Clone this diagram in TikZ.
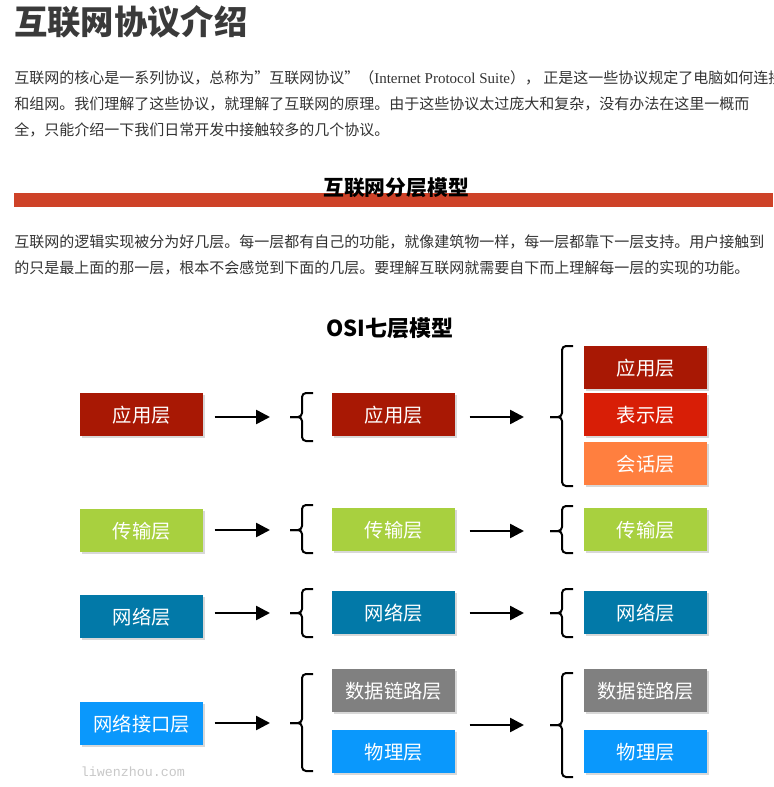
\documentclass[tikz,border=0pt]{standalone}
\usepackage{fontspec}
\setmainfont{Noto Sans CJK SC}
\newfontfamily\latinserif{Liberation Serif}
\newfontfamily\monowm{Liberation Mono}
\usetikzlibrary{arrows.meta,shadows}
\definecolor{txtgray}{RGB}{51,51,51}
\definecolor{ttlgray}{RGB}{58,58,58}
\definecolor{barred}{RGB}{206,66,40}
\definecolor{wmgray}{RGB}{200,200,200}
\definecolor{appC}{RGB}{168,24,4}
\definecolor{preC}{RGB}{216,30,6}
\definecolor{sesC}{RGB}{255,127,63}
\definecolor{traC}{RGB}{168,208,63}
\definecolor{netC}{RGB}{2,121,168}
\definecolor{phyC}{RGB}{10,152,252}
\definecolor{lnkC}{RGB}{128,128,128}

\begin{document}
\begin{tikzpicture}[x=0.75pt,y=-0.75pt,>={Triangle[length=10.5pt,width=10.5pt]},
    lyr/.style={anchor=north west,minimum width=92.25pt,minimum height=32.25pt,inner sep=0pt,
      text=white,font=\fontsize{14.5}{16}\selectfont,
      drop shadow={shadow xshift=1.5pt,shadow yshift=-1.5pt,opacity=0.3}},
    para/.style={anchor=west,inner sep=0pt,text=txtgray,font=\fontsize{11.25}{13}\selectfont},
    arr/.style={->,line width=1.9pt},
    brc/.style={line width=1.5pt,rounded corners=3pt}]
        \useasboundingbox (0,0) rectangle (773,787);
        \clip (0,0) rectangle (773,787);
        \fill[white] (0,0) rectangle (773,787);
        % page text
        \node[anchor=west,inner sep=0pt,text=ttlgray,font=\fontsize{25}{28}\selectfont\bfseries] (ttl) at (14,22) {互联网协议介绍};
        \node[para] (p1) at (14,78) {互联网的核心是一系列协议，总称为”互联网协议”（{\latinserif Internet Protocol Suite}）， 正是这一些协议规定了电脑如何连接};
        \node[para] (p2) at (14,104) {和组网。我们理解了这些协议，就理解了互联网的原理。由于这些协议太过庞大和复杂，没有办法在这里一概而};
        \node[para] (p3) at (14,130) {全，只能介绍一下我们日常开发中接触较多的几个协议。};
        \fill[barred] (14,193) rectangle (773,207);
        \node[inner sep=0pt,font=\fontsize{15.6}{18}\selectfont\bfseries] (hd) at (396,188) {互联网分层模型};
        \node[para] (q1) at (14,242) {互联网的逻辑实现被分为好几层。每一层都有自己的功能，就像建筑物一样，每一层都靠下一层支持。用户接触到};
        \node[para] (q2) at (14,268) {的只是最上面的那一层，根本不会感觉到下面的几层。要理解互联网就需要自下而上理解每一层的实现的功能。};
        % diagram
        \node[inner sep=0pt,font=\fontsize{16.5}{19}\selectfont\bfseries] (osi) at (390,328) {OSI七层模型};
        \node[lyr,fill=appC] (a1) at (80,393) {应用层};
        \node[lyr,fill=appC] (b1) at (332,393) {应用层};
        \node[lyr,fill=appC] (c1a) at (584,346) {应用层};
        \node[lyr,fill=preC] (c1b) at (584,393) {表示层};
        \node[lyr,fill=sesC] (c1c) at (584,442) {会话层};
        \node[lyr,fill=traC] (a2) at (80,509) {传输层};
        \node[lyr,fill=traC] (b2) at (332,508) {传输层};
        \node[lyr,fill=traC] (c2) at (584,508) {传输层};
        \node[lyr,fill=netC] (a3) at (80,595) {网络层};
        \node[lyr,fill=netC] (b3) at (332,591) {网络层};
        \node[lyr,fill=netC] (c3) at (584,591) {网络层};
        \node[lyr,fill=phyC] (a4) at (80,702) {网络接口层};
        \node[lyr,fill=lnkC] (b4a) at (332,669) {数据链路层};
        \node[lyr,fill=phyC] (b4b) at (332,730) {物理层};
        \node[lyr,fill=lnkC] (c4a) at (584,669) {数据链路层};
        \node[lyr,fill=phyC] (c4b) at (584,730) {物理层};
        % braces
        \foreach \bx/\bt/\bb/\bm/\nm in {290/393/441/417/k1, 290/505/553/530/k2, 290/589/637/613/k3, 290/674/771/723/k4,
            550/346/486/417/m1, 550/506/553/531/m2, 550/589/637/613/m3, 550/673/777/725/m4} {
            \draw[brc] (\bx+23,\bt) -- (\bx+12,\bt) -- (\bx+12,\bm) -- (\bx,\bm);
            \draw[brc] (\bx+23,\bb) -- (\bx+12,\bb) -- (\bx+12,\bm) -- (\bx,\bm);
            \coordinate (\nm) at (\bx,\bm);
        }
        % arrows
        \draw[arr,shorten <=8.25pt,shorten >=15pt] (a1.east |- k1) -- (k1);
        \draw[arr,shorten <=8.25pt,shorten >=15pt] (a2.east |- k2) -- (k2);
        \draw[arr,shorten <=8.25pt,shorten >=15pt] (a3.east |- k3) -- (k3);
        \draw[arr,shorten <=8.25pt,shorten >=15pt] (a4.east |- k4) -- (k4);
        \draw[arr,shorten <=10.5pt,shorten >=19.5pt] (b1.east |- m1) -- (m1);
        \draw[arr,shorten <=10.5pt,shorten >=19.5pt] (b2.east |- m2) -- (m2);
        \draw[arr,shorten <=10.5pt,shorten >=19.5pt] (b3.east |- m3) -- (m3);
        \draw[arr,shorten <=10.5pt,shorten >=19.5pt] (b4a.east |- m4) -- (m4);
        \node[inner sep=0pt,text=wmgray,font=\monowm\fontsize{10}{12}\selectfont] (wm) at (133,772) {liwenzhou.com};
\end{tikzpicture}
\end{document}
